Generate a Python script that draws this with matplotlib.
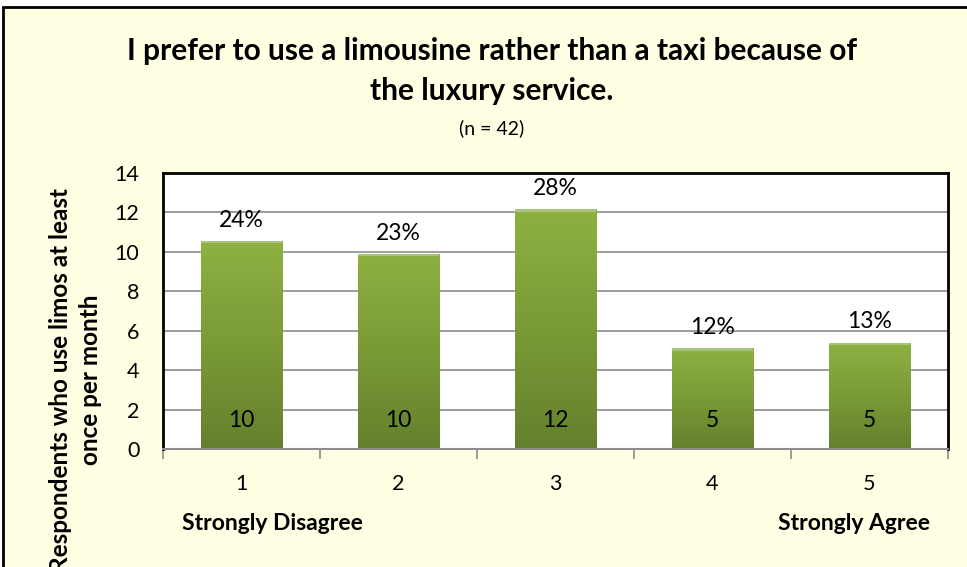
import numpy as np
import matplotlib.pyplot as plt
from matplotlib.patches import Rectangle
from matplotlib.colors import LinearSegmentedColormap

plt.rcParams['font.family'] = ['Lato', 'DejaVu Sans']

categories = ['1', '2', '3', '4', '5']
heights = [10.55, 9.9, 12.15, 5.1, 5.4]
counts = ['10', '10', '12', '5', '5']
percents = ['24%', '23%', '28%', '12%', '13%']

W, H = 967, 567
fig = plt.figure(figsize=(W / 100, H / 100), dpi=100)
fig.patch.set_facecolor('white')

# chart-area background with black frame (cut off at right and bottom)
fig.patches.append(Rectangle((3 / W, -0.1), 1.2, 1 - 7 / H + 0.1, transform=fig.transFigure,
                             facecolor='#FFFFE3', edgecolor='black', linewidth=2, zorder=-10))

ax = fig.add_axes([163 / W, 1 - 449 / H, 785 / W, 276 / H])
ax.set_facecolor('white')

x = np.arange(len(categories))
ax.set_xlim(-0.5, len(categories) - 0.5)
ax.set_ylim(0, 14)
ax.set_yticks(range(0, 15, 2))
ax.yaxis.grid(True, color='#8C8C8C', linewidth=1.2)
ax.set_axisbelow(True)

green = LinearSegmentedColormap.from_list('g', ['#65802D', '#7A9A36', '#8EB142'])
grad = np.linspace(0, 1, 256).reshape(-1, 1)
bars = ax.bar(x, heights, width=0.52, color='none', zorder=2)
for b in bars:
    x0, w, h = b.get_x(), b.get_width(), b.get_height()
    im = ax.imshow(grad, extent=[x0, x0 + w, 0, h], origin='lower', cmap=green,
                   aspect='auto', zorder=2)
    im.set_clip_path(b)
    ax.add_patch(Rectangle((x0, h - 0.12), w, 0.12, facecolor='#A9C57A',
                           edgecolor='none', zorder=3))

ax.set_xlim(-0.5, len(categories) - 0.5)
ax.set_ylim(0, 14)

for i, b in enumerate(bars):
    h = b.get_height()
    ax.text(x[i], h + 1.05, percents[i], ha='center', va='center', fontsize=16.5)
    ax.text(x[i], 1.45, counts[i], ha='center', va='center', fontsize=16.5)

for s in ax.spines.values():
    s.set_color('black')
    s.set_linewidth(2)
ax.spines['bottom'].set_color('#8C8C8C')
ax.spines['bottom'].set_linewidth(1.5)

ax.set_xticks(np.arange(-0.5, len(categories), 1.0))
ax.set_xticklabels([])
ax.tick_params(axis='x', length=7, color='#8C8C8C', width=1.2)
ax.tick_params(axis='y', length=0, labelsize=15.5, pad=17)
for i, c in enumerate(categories):
    ax.text(x[i], -1.75, c, ha='center', va='center', fontsize=15.5)

ax.text(0.2, -3.8, 'Strongly Disagree', ha='center', va='center', fontsize=16.5,
        fontweight='bold')
ax.text(3.9, -3.8, 'Strongly Agree', ha='center', va='center', fontsize=16.5,
        fontweight='bold')

ax.set_ylabel('Respondents who use limos at least\nonce per month', fontsize=17.5,
              fontweight='bold', linespacing=1.35)
ax.yaxis.set_label_coords(-0.078, 0.25)

fig.text(492 / W, 1 - 71 / H, 'I prefer to use a limousine rather than a taxi because of\nthe luxury service.',
         ha='center', va='center', fontsize=21.5, fontweight='bold', linespacing=1.5)
fig.text(492 / W, 1 - 128 / H, '(n = 42)', ha='center', va='center', fontsize=14)

fig.savefig('out.png', dpi=100, facecolor=fig.get_facecolor())
